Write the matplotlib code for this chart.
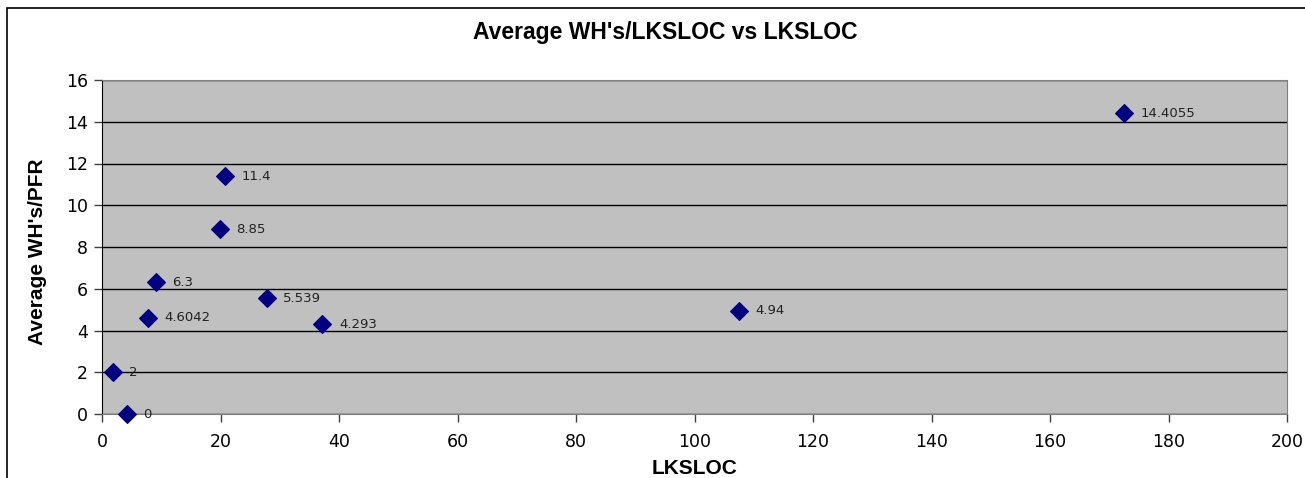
import matplotlib
matplotlib.use("Agg")
import matplotlib.pyplot as plt
from matplotlib.patches import Rectangle

# Data
lksloc = [1.8, 4.2, 7.7, 9.1, 19.9, 20.8, 27.8, 37.2, 107.5, 172.5]
avg_wh = [2, 0, 4.6042, 6.3, 8.85, 11.4, 5.539, 4.293, 4.94, 14.4055]
labels = ["2", "0", "4.6042", "6.3", "8.85", "11.4", "5.539", "4.293", "4.94", "14.4055"]
x_ticks = [0, 20, 40, 60, 80, 100, 120, 140, 160, 180, 200]
y_ticks = [0, 2, 4, 6, 8, 10, 12, 14, 16]

plt.rcParams['font.family'] = ['DejaVu Sans']

fig = plt.figure(figsize=(13.05, 4.78), dpi=100)
ax = fig.add_axes([102/1305, 1-414/478, (1287-102)/1305, (414-80)/478])
ax.set_facecolor('#C0C0C0')

ax.set_xlim(0, 200)
ax.set_ylim(0, 16)
ax.set_xticks(x_ticks)
ax.set_yticks(y_ticks)
ax.yaxis.grid(True, color='black', linewidth=1.0)
ax.set_axisbelow(True)

ax.scatter(lksloc, avg_wh, marker='D', s=80, color='#000080', zorder=3, clip_on=False)
for x, y, t in zip(lksloc, avg_wh, labels):
    ax.annotate(t, (x, y), xytext=(12, 0), textcoords='offset points',
                fontsize=9.5, va='center', ha='left', color='#222222', zorder=4)

for s in ['top', 'right']:
    ax.spines[s].set_color('#808080')
ax.spines['bottom'].set_color('#808080')
ax.spines['left'].set_color('black')
ax.tick_params(axis='both', direction='out', length=6, labelsize=12.5, width=1,
               color='#404040', pad=4)
ax.tick_params(axis='x', pad=8)

bold = dict(family=['Liberation Sans', 'DejaVu Sans'], fontweight='bold')
fig.text(665/1305, 1-33/478, "Average WH's/LKSLOC vs LKSLOC", ha='center', va='center',
         fontsize=16.5, **bold)
fig.text(695/1305, 1-468/478, "LKSLOC", ha='center', va='center', fontsize=15, **bold)
fig.text(38/1305, 1-252/478, "Average WH's/PFR", ha='center', va='center', rotation=90,
         fontsize=15, **bold)

fig.patches.append(Rectangle((7/1305, -0.1), 1.2, 1-8/478+0.1, transform=fig.transFigure,
                             fill=False, edgecolor='black', linewidth=1.2, clip_on=False))

fig.savefig('out.png', dpi=100)
